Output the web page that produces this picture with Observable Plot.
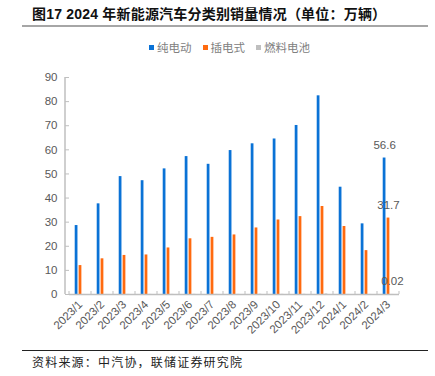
<!DOCTYPE html>
<html><head><meta charset="utf-8">
<script src="https://cdn.jsdelivr.net/npm/d3@7"></script>
<script src="https://cdn.jsdelivr.net/npm/@observablehq/plot@0.6"></script>
<style>
body{margin:0;background:#fff;}
#wrap{position:relative;width:435px;height:376px;overflow:hidden;background:#fff;}
#title{position:absolute;left:32px;top:3px;font:bold 14px "Liberation Sans","Noto Sans CJK SC",sans-serif;letter-spacing:0.2px;color:#111;white-space:nowrap;}
#tline{position:absolute;left:22px;top:25px;width:406px;height:2px;background:#a6a6a6;}
#legend{position:absolute;left:149px;top:39px;display:flex;align-items:center;font:11.5px "Noto Sans CJK SC",sans-serif;color:#808080;white-space:nowrap;}
#legend .it{display:flex;align-items:center;margin-right:11px;}
#legend .sw{width:5px;height:5px;margin-right:3px;}
#fline{position:absolute;left:22px;top:350px;width:406px;height:1px;background:#222;}
#foot{position:absolute;left:32px;top:353px;font:12px "Noto Sans CJK SC",sans-serif;letter-spacing:1.2px;color:#222;white-space:nowrap;}
#chart{position:absolute;left:0;top:0;}
</style></head>
<body>
<div id="wrap">
  <div id="chart"></div>
  <div id="title"></div>
  <div id="tline"></div>
  <div id="legend"></div>
  <div id="fline"></div>
  <div id="foot"></div>
</div>
<script>
const titleText = "图17 2024 年新能源汽车分类别销量情况（单位：万辆）";
const sourceText = "资料来源：中汽协，联储证券研究院";
const months = ["2023/1","2023/2","2023/3","2023/4","2023/5","2023/6","2023/7","2023/8","2023/9","2023/10","2023/11","2023/12","2024/1","2024/2","2024/3"];
const series = ["纯电动","插电式","燃料电池"];
const colors = ["#0A72D6","#FF6A0F","#A6A6A6"];
const bev  = [28.6,37.6,48.9,47.2,52.1,57.2,54.0,59.7,62.5,64.5,70.1,82.4,44.5,29.3,56.6];
const phev = [12.0,14.8,16.2,16.4,19.3,23.1,23.7,24.7,27.6,30.9,32.3,36.5,28.2,18.2,31.7];
const fcv  = [0.01,0.01,0.03,0.03,0.04,0.05,0.04,0.04,0.07,0.05,0.06,0.15,0.02,0.02,0.02];
const yTicks = [0,10,20,30,40,50,60,70,80,90];
const labelMonth = "2024/3";
const labelTexts = ["56.6","31.7","0.02"];

document.getElementById("title").textContent = titleText;
document.getElementById("foot").textContent = sourceText;
const leg = document.getElementById("legend");
series.forEach((s,i)=>{
  const it = document.createElement("div"); it.className="it";
  const sw = document.createElement("div"); sw.className="sw"; sw.style.background = i===2 ? "#bfbfbf" : colors[i];
  const t = document.createElement("span"); t.textContent = s;
  it.appendChild(sw); it.appendChild(t); leg.appendChild(it);
});

const vals = [bev, phev, fcv];
const data = months.flatMap((m,i)=>series.map((s,j)=>({month:m, series:s, value:vals[j][i]})));
const li = months.indexOf(labelMonth);
const labels = series.map((s,j)=>({month:labelMonth, series:s, value:vals[j][li], label:labelTexts[j]}));

const plot = Plot.plot({
  width:435, height:376,
  marginLeft:65, marginRight:33, marginTop:77, marginBottom:82,
  style:{fontFamily:"'Liberation Sans', Arial, sans-serif", fontSize:"11.5px", color:"#595959", background:"transparent"},
  fx:{domain:months, padding:0, label:null},
  x:{domain:series, axis:null, paddingInner:0.3, paddingOuter:1.46, round:false},
  y:{domain:[0,90], label:null},
  color:{domain:series, range:colors},
  marks:[
    Plot.axisY({ticks:yTicks, tickSize:4, tickPadding:8, stroke:"#bfbfbf", fill:"#595959", label:null}),
    Plot.axisFx({anchor:"bottom", tickRotate:-45, tickSize:0, tickPadding:8, fill:"#595959", label:null}),
    Plot.barY(data, {fx:"month", x:"series", y:"value", fill:"series"}),
    Plot.ruleY([0], {stroke:"#bfbfbf", strokeWidth:1.5}),
    Plot.text(labels, {fx:"month", x:"series", y:"value", text:"label", dy:-13, fill:"#595959"})
  ]
});
document.getElementById("chart").appendChild(plot);

// axis line and category boundary ticks, positioned from the plot's own scales
const fx = plot.scale("fx"), y = plot.scale("y");
const svg = d3.select(plot);
const y0 = y.apply(0), yTop = y.apply(90);
const x0 = fx.range[0];
svg.append("line").attr("x1",x0).attr("x2",x0).attr("y1",yTop).attr("y2",y0).attr("stroke","#bfbfbf").attr("stroke-width",1.5);
const bounds = months.map(m=>fx.apply(m)).concat([fx.apply(months[months.length-1]) + fx.bandwidth]);
bounds.forEach(bx=>{
  svg.append("line").attr("x1",bx).attr("x2",bx).attr("y1",y0).attr("y2",y0-3).attr("stroke","#bfbfbf");
});
</script>
</body></html>
